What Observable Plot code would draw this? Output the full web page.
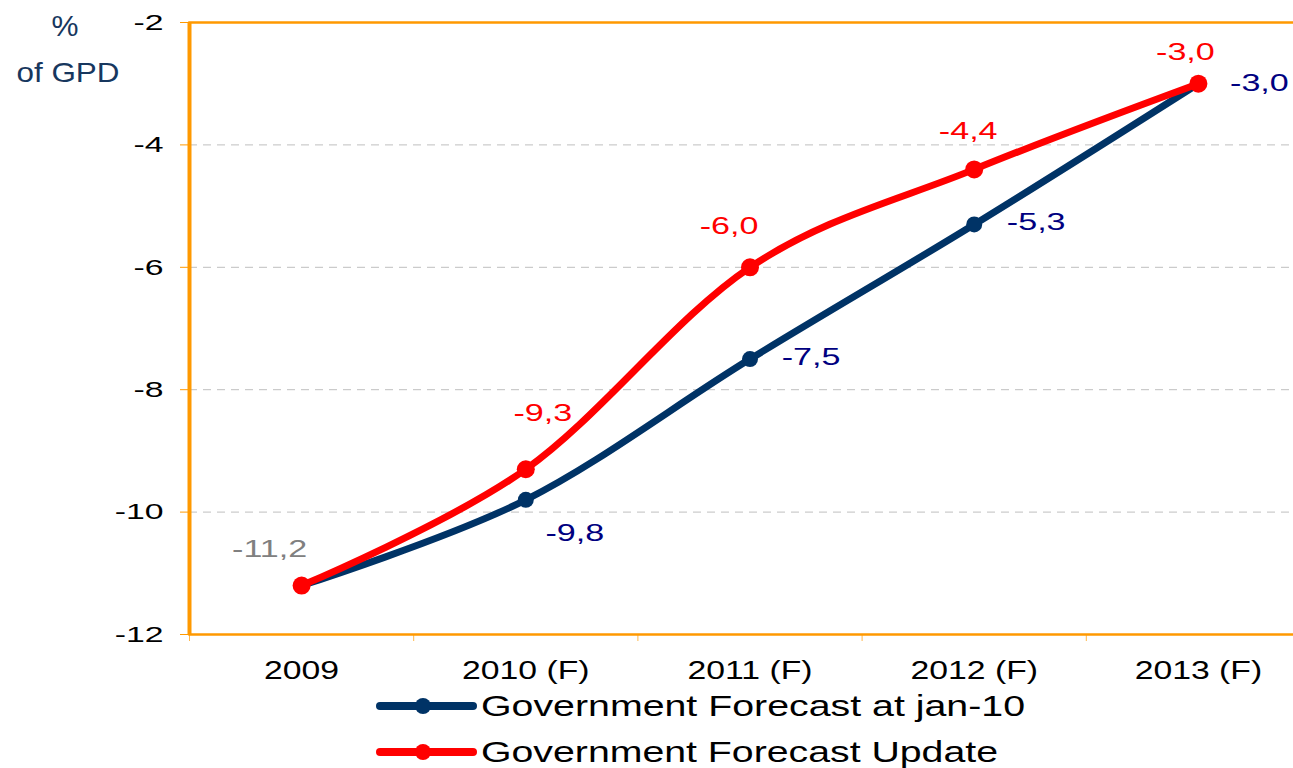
<!DOCTYPE html>
<html><head><meta charset="utf-8">
<script src="https://cdn.jsdelivr.net/npm/d3@7"></script>
<script src="https://cdn.jsdelivr.net/npm/@observablehq/plot@0.6"></script>
<style>
html,body{margin:0;padding:0;overflow:hidden;background:#fff;}
#wrap{position:relative;width:1293px;height:768px;overflow:hidden;font-family:"Liberation Sans",Arial,sans-serif;}
#wrap svg{display:block;max-width:none !important;}
#unit{position:absolute;left:0;top:0;}
</style></head><body><div id="wrap"></div>
<script>
const years = ["2009", "2010 (F)", "2011 (F)", "2012 (F)", "2013 (F)"];
const forecastJan10 = [-11.2, -9.8, -7.5, -5.3, -3.0];
const forecastUpdate = [-11.2, -9.3, -6.0, -4.4, -3.0];
const yTicks = [-2, -4, -6, -8, -10, -12];
const seriesNames = ["Government Forecast at jan-10", "Government Forecast Update"];
const unitLabel = ["%", "of GPD"];

const BLUE = "#003366", RED = "#FF0000", ORANGE = "#FF9900", NAVY = "#000080", GREY = "#808080";
const fmt = v => v.toFixed(1).replace(".", ",");
const idx = years.map((_, i) => i);
const blueData = idx.map(i => ({i, v: forecastJan10[i]}));
const redData = idx.map(i => ({i, v: forecastUpdate[i]}));
const bounds = [-0.5, ...idx.map(i => i + 0.5)];

// label placement (layout only)
const redOff = [null, [17, -56], [-21, -41], [-6, -38], [-13, -31]];
const blueOff = [null, [49, 33], [61, -2], [62, -2], [61, 0]];

const labelMarks = [];
labelMarks.push(Plot.text([redData[0]], {x: "i", y: "v", text: d => fmt(d.v), dx: -32, dy: -36, fill: GREY, fontSize: 24}));
for (let i = 1; i < idx.length; i++) {
  labelMarks.push(Plot.text([redData[i]], {x: "i", y: "v", text: d => fmt(d.v), dx: redOff[i][0], dy: redOff[i][1], fill: RED, fontSize: 24}));
  labelMarks.push(Plot.text([blueData[i]], {x: "i", y: "v", text: d => fmt(d.v), dx: blueOff[i][0], dy: blueOff[i][1], fill: NAVY, fontSize: 24}));
}

const chart = Plot.plot({
  width: 1320,
  height: 690,
  marginLeft: 189,
  marginRight: 10,
  marginTop: 22,
  marginBottom: 56,
  style: {fontFamily: "'Liberation Sans', Arial, sans-serif", background: "#fff", overflow: "visible", maxWidth: "none"},
  x: {domain: [-0.5, 4.5]},
  y: {domain: [-12, -2]},
  marks: [
    Plot.gridY(yTicks.filter(t => t !== -2 && t !== -12), {stroke: "#BFBFBF", strokeOpacity: 1, strokeDasharray: "8,6"}),
    Plot.axisY(yTicks, {tickSize: 9, tickPadding: 17, stroke: ORANGE, fill: "#000", fontSize: 22.5, label: null, tickFormat: d => String(d)}),
    Plot.axisX(bounds, {tickSize: 7, stroke: "#FFB84D", tickFormat: () => "", label: null}),
    Plot.axisX(idx, {tickSize: 0, tickPadding: 27, fill: "#000", fontSize: 25, label: null, tickFormat: i => years[i]}),
    Plot.frame({stroke: ORANGE, strokeWidth: 2.5}),
    Plot.ruleX([-0.5], {stroke: ORANGE, strokeWidth: 4}),
    Plot.line(blueData, {x: "i", y: "v", stroke: BLUE, strokeWidth: 7, curve: "cardinal"}),
    Plot.dot(blueData, {x: "i", y: "v", r: 8, fill: BLUE}),
    Plot.line(redData, {x: "i", y: "v", stroke: RED, strokeWidth: 7, curve: "cardinal"}),
    Plot.dot(redData, {x: "i", y: "v", r: 9, fill: RED}),
    ...labelMarks
  ]
});

const wrap = document.getElementById("wrap");
wrap.appendChild(chart);

// horizontally widened lettering as in the reference
function stretch(sel, k) {
  chart.querySelectorAll(sel).forEach(t => {
    const L = t.getComputedTextLength();
    if (L > 0) { t.setAttribute("textLength", L * k); t.setAttribute("lengthAdjust", "spacingAndGlyphs"); }
  });
}
stretch('g[aria-label="y-axis tick label"] text', 1.5);
stretch('g[aria-label="x-axis tick label"] text', 1.35);
stretch('g[aria-label="text"] text', 1.42);

// legend below the chart
const lg = d3.select(wrap).append("svg").attr("width", 1293).attr("height", 78);
const legColors = [BLUE, RED];
const legLens = [544, 517];
seriesNames.forEach((name, i) => {
  const cy = 16 + i * 46;
  lg.append("line").attr("x1", 380).attr("x2", 473).attr("y1", cy).attr("y2", cy)
    .attr("stroke", legColors[i]).attr("stroke-width", 8).attr("stroke-linecap", "round");
  lg.append("circle").attr("cx", 423).attr("cy", cy).attr("r", 8).attr("fill", legColors[i]);
  lg.append("text").attr("x", 481).attr("y", cy + 10).text(name)
    .attr("font-family", "'Liberation Sans', Arial, sans-serif").attr("font-size", 29).attr("fill", "#000")
    .attr("textLength", legLens[i]).attr("lengthAdjust", "spacingAndGlyphs");
});

// unit label at top left
const un = d3.select(wrap).append("svg").attr("id", "unit").attr("width", 150).attr("height", 100);
un.append("text").attr("x", 65).attr("y", 36).attr("text-anchor", "middle").text(unitLabel[0])
  .attr("font-family", "'Liberation Sans', Arial, sans-serif").attr("font-size", 29).attr("fill", "#17375E")
  .attr("textLength", 27).attr("lengthAdjust", "spacingAndGlyphs");
un.append("text").attr("x", 68).attr("y", 82).attr("text-anchor", "middle").text(unitLabel[1])
  .attr("font-family", "'Liberation Sans', Arial, sans-serif").attr("font-size", 28).attr("fill", "#17375E")
  .attr("textLength", 103).attr("lengthAdjust", "spacingAndGlyphs");
</script></body></html>
